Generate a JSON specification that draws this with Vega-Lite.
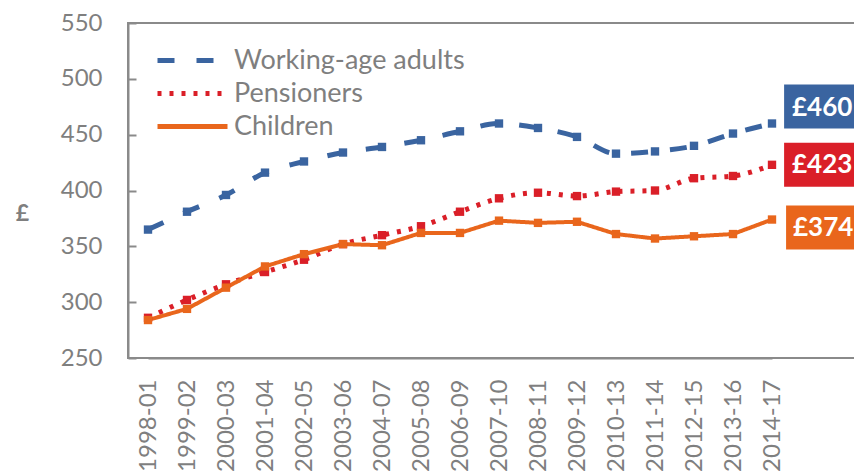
{
  "$schema": "https://vega.github.io/schema/vega-lite/v6.json",
  "width": 740,
  "height": 335,
  "autosize": {"type": "none"},
  "padding": {"left": 128, "top": 23, "right": 0, "bottom": 114},
  "background": "white",
  "config": {
    "font": "Lato",
    "view": {"stroke": "#8a8a8a", "strokeWidth": 2},
    "axis": {"grid": false, "domainColor": "#8a8a8a", "domainWidth": 2, "tickColor": "#8a8a8a", "tickWidth": 2, "labelColor": "#7f7f7f", "labelFont": "Lato"}
  },
  "data": {
    "values": [
      {"year": "1998-01", "group": "Working-age adults", "value": 365},
      {"year": "1999-02", "group": "Working-age adults", "value": 381},
      {"year": "2000-03", "group": "Working-age adults", "value": 396},
      {"year": "2001-04", "group": "Working-age adults", "value": 416},
      {"year": "2002-05", "group": "Working-age adults", "value": 426},
      {"year": "2003-06", "group": "Working-age adults", "value": 434},
      {"year": "2004-07", "group": "Working-age adults", "value": 439},
      {"year": "2005-08", "group": "Working-age adults", "value": 445},
      {"year": "2006-09", "group": "Working-age adults", "value": 453},
      {"year": "2007-10", "group": "Working-age adults", "value": 460},
      {"year": "2008-11", "group": "Working-age adults", "value": 456},
      {"year": "2009-12", "group": "Working-age adults", "value": 448},
      {"year": "2010-13", "group": "Working-age adults", "value": 433},
      {"year": "2011-14", "group": "Working-age adults", "value": 435},
      {"year": "2012-15", "group": "Working-age adults", "value": 440},
      {"year": "2013-16", "group": "Working-age adults", "value": 451},
      {"year": "2014-17", "group": "Working-age adults", "value": 460},
      {"year": "1998-01", "group": "Pensioners", "value": 286},
      {"year": "1999-02", "group": "Pensioners", "value": 302},
      {"year": "2000-03", "group": "Pensioners", "value": 316},
      {"year": "2001-04", "group": "Pensioners", "value": 327},
      {"year": "2002-05", "group": "Pensioners", "value": 338},
      {"year": "2003-06", "group": "Pensioners", "value": 352},
      {"year": "2004-07", "group": "Pensioners", "value": 360},
      {"year": "2005-08", "group": "Pensioners", "value": 368},
      {"year": "2006-09", "group": "Pensioners", "value": 381},
      {"year": "2007-10", "group": "Pensioners", "value": 393},
      {"year": "2008-11", "group": "Pensioners", "value": 398},
      {"year": "2009-12", "group": "Pensioners", "value": 395},
      {"year": "2010-13", "group": "Pensioners", "value": 399},
      {"year": "2011-14", "group": "Pensioners", "value": 400},
      {"year": "2012-15", "group": "Pensioners", "value": 411},
      {"year": "2013-16", "group": "Pensioners", "value": 413},
      {"year": "2014-17", "group": "Pensioners", "value": 423},
      {"year": "1998-01", "group": "Children", "value": 284},
      {"year": "1999-02", "group": "Children", "value": 294},
      {"year": "2000-03", "group": "Children", "value": 313},
      {"year": "2001-04", "group": "Children", "value": 332},
      {"year": "2002-05", "group": "Children", "value": 343},
      {"year": "2003-06", "group": "Children", "value": 352},
      {"year": "2004-07", "group": "Children", "value": 351},
      {"year": "2005-08", "group": "Children", "value": 362},
      {"year": "2006-09", "group": "Children", "value": 362},
      {"year": "2007-10", "group": "Children", "value": 373},
      {"year": "2008-11", "group": "Children", "value": 371},
      {"year": "2009-12", "group": "Children", "value": 372},
      {"year": "2010-13", "group": "Children", "value": 361},
      {"year": "2011-14", "group": "Children", "value": 357},
      {"year": "2012-15", "group": "Children", "value": 359},
      {"year": "2013-16", "group": "Children", "value": 361},
      {"year": "2014-17", "group": "Children", "value": 374}
    ]
  },
  "encoding": {
    "x": {
      "field": "year", "type": "ordinal", "sort": null,
      "scale": {"type": "point", "range": [20, 644], "padding": 0},
      "axis": {"title": null, "labelAngle": -90, "labelFontSize": 24, "ticks": false, "labelPadding": 21, "labelAlign": "right", "labelBaseline": "middle"}
    },
    "y": {
      "field": "value", "type": "quantitative",
      "scale": {"domain": [250, 550], "nice": false, "zero": false},
      "axis": {"values": [250, 300, 350, 400, 450, 500, 550], "labelFontSize": 24, "tickSize": -8, "labelPadding": 34,
        "title": "£", "titleAngle": 0, "titleFontSize": 23, "titleFontWeight": "bold", "titleColor": "#7f7f7f",
        "titleX": -106, "titleY": 190, "titleAlign": "center", "titleBaseline": "middle"}
    },
    "color": {
      "field": "group", "type": "nominal",
      "scale": {"domain": ["Working-age adults", "Pensioners", "Children"], "range": ["#3a64a0", "#da1f28", "#e9661c"]},
      "legend": {"title": null, "orient": "none", "legendX": 51, "legendY": 24, "symbolType": "M-3.5,0H3.5", "symbolSize": 400,
        "symbolStrokeWidth": 5, "labelFontSize": 27, "labelColor": "#7f7f7f", "rowPadding": 5, "labelOffset": 28, "labelLimit": 400}
    },
    "strokeDash": {
      "field": "group", "type": "nominal",
      "scale": {"domain": ["Working-age adults", "Pensioners", "Children"], "range": [[17, 22], [4, 8], [1, 0]]},
      "legend": {"title": null}
    }
  },
  "layer": [
    {
      "transform": [{"filter": "datum.group !== 'Children'"}],
      "mark": {"type": "line", "interpolate": "monotone", "strokeWidth": 5}
    },
    {
      "transform": [{"filter": "datum.group === 'Children'"}],
      "mark": {"type": "line", "strokeWidth": 4}
    },
    {
      "mark": {"type": "point", "shape": "square", "filled": true, "size": 70, "opacity": 1},
      "encoding": {"strokeDash": {"value": [1, 0]}}
    },
    {
      "transform": [{"filter": "datum.year === '2014-17' && datum.group === 'Working-age adults'"}],
      "mark": {"type": "point", "shape": "M0.55,-1.77H4V0.23H0.55Z", "filled": true, "size": 1936, "opacity": 1},
      "encoding": {"color": {"value": "#3a64a0"}, "strokeDash": {"value": [1, 0]}}
    },
    {
      "transform": [{"filter": "datum.year === '2014-17' && datum.group === 'Pensioners'"}],
      "mark": {"type": "point", "shape": "M0.55,-1H4V1H0.55Z", "filled": true, "size": 1936, "opacity": 1},
      "encoding": {"color": {"value": "#da1f28"}, "strokeDash": {"value": [1, 0]}}
    },
    {
      "transform": [{"filter": "datum.year === '2014-17' && datum.group === 'Children'"}],
      "mark": {"type": "point", "shape": "M0.64,-0.64H4V1.36H0.64Z", "filled": true, "size": 1936, "opacity": 1},
      "encoding": {"color": {"value": "#e9661c"}, "strokeDash": {"value": [1, 0]}}
    },
    {
      "transform": [
        {"filter": "datum.year === '2014-17' && datum.group === 'Working-age adults'"},
        {"calculate": "'£' + datum.value", "as": "label"}
      ],
      "mark": {"type": "text", "align": "left", "baseline": "middle", "dx": 20, "dy": -16, "fontSize": 26, "fontWeight": "bold", "font": "Lato"},
      "encoding": {"text": {"field": "label", "type": "nominal"}, "color": {"value": "white"}, "strokeDash": {"value": [1, 0]}}
    },
    {
      "transform": [
        {"filter": "datum.year === '2014-17' && datum.group === 'Pensioners'"},
        {"calculate": "'£' + datum.value", "as": "label"}
      ],
      "mark": {"type": "text", "align": "left", "baseline": "middle", "dx": 20, "dy": 0, "fontSize": 26, "fontWeight": "bold", "font": "Lato"},
      "encoding": {"text": {"field": "label", "type": "nominal"}, "color": {"value": "white"}, "strokeDash": {"value": [1, 0]}}
    },
    {
      "transform": [
        {"filter": "datum.year === '2014-17' && datum.group === 'Children'"},
        {"calculate": "'£' + datum.value", "as": "label"}
      ],
      "mark": {"type": "text", "align": "left", "baseline": "middle", "dx": 21, "dy": 8, "fontSize": 26, "fontWeight": "bold", "font": "Lato"},
      "encoding": {"text": {"field": "label", "type": "nominal"}, "color": {"value": "white"}, "strokeDash": {"value": [1, 0]}}
    }
  ]
}
